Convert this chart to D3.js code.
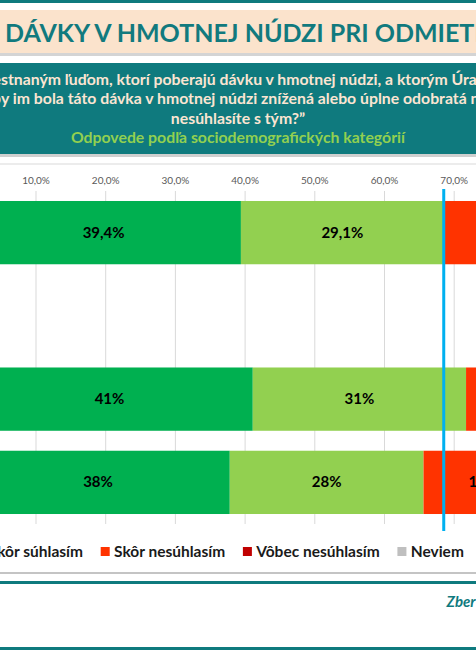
<!DOCTYPE html>
<html>
<head>
<meta charset="utf-8">
<script src="https://cdn.jsdelivr.net/npm/d3@7"></script>
<style>
  html, body { margin: 0; padding: 0; background: #fff; overflow: hidden; }
  svg { display: block; font-family: Lato, 'Open Sans', sans-serif; }
</style>
</head>
<body>
<script>
// data (the left part of the slide is cropped away)
const categories = ['Spolu', ' ', 'Muži', 'Ženy'];
const seriesNames = ['Úplne súhlasím', 'Skôr súhlasím', 'Skôr nesúhlasím', 'Vôbec nesúhlasím', 'Neviem'];
const seriesColors = ['#00b050', '#92d050', '#ff3300', '#c00000', '#bfbfbf'];
const fullyAgree = [39.4, null, 41.1, 37.8];
const ratherAgree = [29.1, null, 30.6, 27.8];
const ratherDisagree = [15.2, null, 14.0, 17.2];
const fullyDisagree = [10.1, null, 8.9, 10.8];
const dontKnow = [6.2, null, 5.4, 6.4];
const labelDecimals = [1, 0, 0, 0];
const tickValues = [0, 10, 20, 30, 40, 50, 60, 70, 80, 90, 100];

const title = 'DÁVKY V HMOTNEJ NÚDZI PRI ODMIETNUTÍ PRÁCE';
const questionLines = [
    ['„Nezame', 'stnaným ľuďom, ktorí poberajú dávku v hmotnej núdzi, a ktorým Úrad práce ponúkne prácu a oni ju odmietnu,'],
    ['b', 'y im bola táto dávka v hmotnej núdzi znížená alebo úplne odobratá na určitý čas. Súhlasíte alebo']
];
const questionEnd = 'nesúhlasíte s tým?”';
const subtitle = 'Odpovede podľa sociodemografických kategórií';
const footer = 'Zber údajov';

const W = 476, H = 650;
const teal = '#0f7a7e';

const svg = d3.select('body').append('svg')
    .attr('width', W)
    .attr('height', H);

// slide frame
svg.append('rect').attr('x', 0).attr('y', 0).attr('width', W).attr('height', 3).attr('fill', teal);
svg.append('rect').attr('x', 0).attr('y', 53).attr('width', W).attr('height', 3).attr('fill', '#d4d4d4');
svg.append('rect').attr('x', 0).attr('y', 10).attr('width', W).attr('height', 43).attr('fill', '#fbe3cc');
svg.append('text')
    .attr('x', 5).attr('y', 42)
    .attr('font-size', 25).attr('font-weight', 700)
    .attr('fill', '#117a7e')
    .text(title);

svg.append('rect').attr('x', 0).attr('y', 154).attr('width', W).attr('height', 3).attr('fill', '#cfcfcf');
svg.append('rect').attr('x', 0).attr('y', 63).attr('width', W).attr('height', 91).attr('fill', teal);

const qText = svg.append('g')
    .attr('font-size', 15.8).attr('font-weight', 700)
    .attr('fill', '#fbe5d2');
questionLines.forEach(([hidden, shown], i) => {
    const y = 85 + i * 19;
    qText.append('text').attr('x', 1).attr('y', y).attr('text-anchor', 'end').text(hidden);
    qText.append('text').attr('x', 1).attr('y', y).text(shown);
});
qText.append('text').attr('x', W / 2).attr('y', 123.5).attr('text-anchor', 'middle').text(questionEnd);
svg.append('text')
    .attr('x', W / 2).attr('y', 142.5)
    .attr('text-anchor', 'middle')
    .attr('font-size', 15.8).attr('font-weight', 700)
    .attr('fill', '#92d050')
    .text(subtitle);

// chart box edges
svg.append('rect').attr('x', 0).attr('y', 163).attr('width', W).attr('height', 2).attr('fill', '#ececec');
svg.append('rect').attr('x', 0).attr('y', 572).attr('width', W).attr('height', 2).attr('fill', '#c4c4c4');
svg.append('rect').attr('x', 0).attr('y', 581).attr('width', W).attr('height', 3).attr('fill', teal);
svg.append('rect').attr('x', 0).attr('y', 647).attr('width', W).attr('height', 3).attr('fill', teal);
svg.append('text')
    .attr('x', 446.5).attr('y', 607)
    .attr('font-size', 15).attr('font-weight', 700).attr('font-style', 'italic')
    .attr('fill', teal)
    .text(footer);

// scales
const x = d3.scaleLinear().domain([0, 100]).range([-33.7, 663.3]);
const y = d3.scaleBand()
    .domain(categories)
    .range([191, 524])
    .paddingInner(0.24)
    .paddingOuter(0.12);

const sk = d3.formatLocale({ decimal: ',', thousands: ' ', grouping: [3], currency: ['', ' €'] });
const tickFormat = v => sk.format('.1f')(v) + '%';

// grid
svg.append('g').selectAll('line')
    .data(tickValues)
    .join('line')
    .attr('x1', d => x(d)).attr('x2', d => x(d))
    .attr('y1', 191).attr('y2', 524)
    .attr('stroke', '#d9d9d9')
    .attr('stroke-width', 1);

svg.append('g').selectAll('text')
    .data(tickValues)
    .join('text')
    .attr('x', d => x(d))
    .attr('y', 183.5)
    .attr('text-anchor', 'middle')
    .attr('font-size', 10)
    .attr('fill', '#595959')
    .text(tickFormat);

// stacked bars
const rows = categories.map((c, i) => ({
    cat: c,
    index: i,
    [seriesNames[0]]: fullyAgree[i] || 0,
    [seriesNames[1]]: ratherAgree[i] || 0,
    [seriesNames[2]]: ratherDisagree[i] || 0,
    [seriesNames[3]]: fullyDisagree[i] || 0,
    [seriesNames[4]]: dontKnow[i] || 0
})).filter(r => fullyAgree[r.index] != null);

const stacked = d3.stack().keys(seriesNames)(rows);

const layers = svg.append('g').selectAll('g')
    .data(stacked)
    .join('g')
    .attr('fill', (d, i) => seriesColors[i]);

layers.selectAll('rect')
    .data(d => d)
    .join('rect')
    .attr('x', d => x(d[0]))
    .attr('y', d => y(d.data.cat))
    .attr('width', d => x(d[1]) - x(d[0]))
    .attr('height', y.bandwidth());

layers.selectAll('text')
    .data(d => d)
    .join('text')
    .attr('x', d => (x(d[0]) + x(d[1])) / 2)
    .attr('y', d => y(d.data.cat) + y.bandwidth() / 2 + 5)
    .attr('text-anchor', 'middle')
    .attr('font-size', 15)
    .attr('font-weight', 700)
    .attr('fill', '#000')
    .text(d => sk.format(`.${labelDecimals[d.data.index]}f`)(d[1] - d[0]) + '%');

// reference line: total agreement of the whole sample
const refValue = fullyAgree[0] + ratherAgree[0];
svg.append('line')
    .attr('x1', x(refValue)).attr('x2', x(refValue))
    .attr('y1', 189).attr('y2', 531)
    .attr('stroke', '#00b0f0')
    .attr('stroke-width', 3);

// legend
const legend = svg.append('g')
    .attr('font-size', 15.5).attr('font-weight', 700)
    .attr('fill', '#1a1a1a');
const items = seriesNames.map((name, i) => {
    const g = legend.append('g');
    g.append('rect').attr('width', 9).attr('height', 9).attr('y', 547).attr('fill', seriesColors[i]);
    const t = g.append('text').attr('y', 557).text(name);
    return { g, t, w: t.node().getComputedTextLength() };
});
const anchorIdx = 2, anchorX = 100.7, sqGap = 13.3, itemGap = 17.7;
const sqX = [];
sqX[anchorIdx] = anchorX;
for (let i = anchorIdx + 1; i < items.length; i++) {
    sqX[i] = sqX[i - 1] + sqGap + items[i - 1].w + itemGap;
}
for (let i = anchorIdx - 1; i >= 0; i--) {
    sqX[i] = sqX[i + 1] - itemGap - items[i].w - sqGap;
}
items.forEach((it, i) => {
    it.g.select('rect').attr('x', sqX[i]);
    it.t.attr('x', sqX[i] + sqGap);
});
</script>
</body>
</html>
